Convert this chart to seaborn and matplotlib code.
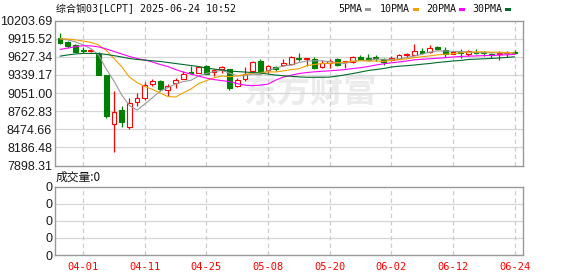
import matplotlib
matplotlib.use("Agg")
import matplotlib.pyplot as plt
from matplotlib.patches import Rectangle
import numpy as np
import pandas as pd
import seaborn as sns

# ---------------- data ----------------
title = "综合铜03[LCPT] 2025-06-24 10:52"
volume_label = "成交量:0"
watermark = "东方财富"

# LME trading days (UK holidays skipped)
trade_days = pd.bdate_range("2025-03-27", "2025-06-24", freq="C",
                            holidays=["2025-04-18", "2025-04-21", "2025-05-05", "2025-05-26"])
dates = [d.strftime("%m-%d") for d in trade_days]

x_tick_labels = ["04-01", "04-11", "04-25", "05-08", "05-20", "06-02", "06-12", "06-24"]
price_tick_labels = ["10203.69", "9915.52", "9627.34", "9339.17", "9051.00",
                     "8762.83", "8474.66", "8186.48", "7898.31"]
volume_tick_labels = ["0", "0", "0", "0", "0"]

opens = [9931, 9861, 9813, 9733, 9717, 9675, 9344, 8555, 8784, 8516,
         8907, 8971, 9195, 9237, 9096, 9216, 9280, 9392, 9371, 9488,
         9387, 9432, 9435, 9168, 9275, 9408, 9557, 9424, 9461, 9504,
         9520, 9600, 9595, 9595, 9467, 9531, 9584, 9541, 9541, 9621,
         9600, 9621, 9584, 9568, 9595, 9653, 9653, 9717, 9701, 9781,
         9728, 9675, 9707, 9664, 9701, 9696, 9669, 9675, 9680, 9701]
highs = [10012, 9877, 9823, 9781, 9755, 9696, 9344, 9088, 8852, 8971,
         9051, 9221, 9275, 9253, 9200, 9291, 9408, 9480, 9472, 9504,
         9440, 9488, 9440, 9291, 9467, 9557, 9584, 9504, 9488, 9584,
         9637, 9680, 9611, 9616, 9568, 9584, 9611, 9557, 9637, 9648,
         9675, 9648, 9611, 9637, 9664, 9691, 9824, 9771, 9808, 9797,
         9781, 9712, 9744, 9728, 9744, 9717, 9691, 9717, 9717, 9733]
lows = [9836, 9771, 9695, 9691, 9696, 9340, 8651, 8106, 8516, 8475,
        8852, 8932, 9157, 9088, 9008, 9131, 9272, 9355, 9368, 9360,
        9317, 9376, 9093, 9147, 9237, 9371, 9392, 9371, 9397, 9477,
        9504, 9557, 9488, 9440, 9451, 9451, 9488, 9451, 9531, 9584,
        9557, 9557, 9504, 9557, 9584, 9611, 9648, 9675, 9691, 9733,
        9627, 9670, 9611, 9637, 9664, 9637, 9611, 9568, 9627, 9664]
closes = [9851, 9797, 9701, 9712, 9733, 9344, 8688, 8747, 8596, 8891,
          8971, 9173, 9248, 9120, 9168, 9264, 9360, 9371, 9464, 9360,
          9413, 9467, 9131, 9253, 9360, 9547, 9408, 9477, 9435, 9531,
          9627, 9594, 9611, 9451, 9531, 9557, 9504, 9557, 9621, 9595,
          9573, 9600, 9541, 9611, 9648, 9675, 9717, 9691, 9771, 9744,
          9675, 9707, 9691, 9717, 9691, 9685, 9659, 9691, 9701, 9691]

ma5 = [9912, 9896, 9864, 9816, 9756, 9655, 9433, 9242, 9022, 8853,
       8779, 8876, 8976, 9081, 9136, 9195, 9232, 9253, 9322, 9361,
       9390, 9412, 9367, 9325, 9325, 9352, 9340, 9409, 9445, 9480,
       9496, 9533, 9560, 9563, 9563, 9549, 9531, 9520, 9554, 9567,
       9570, 9589, 9586, 9584, 9595, 9615, 9638, 9668, 9700, 9720,
       9720, 9712, 9712, 9701, 9691, 9693, 9689, 9689, 9685, 9685]
ma10 = [9915, 9909, 9896, 9877, 9856, 9816, 9728, 9600, 9472, 9305,
        9217, 9154, 9109, 9051, 8995, 8987, 9054, 9115, 9201, 9248,
        9293, 9322, 9310, 9324, 9343, 9371, 9376, 9388, 9385, 9402,
        9424, 9436, 9484, 9504, 9521, 9522, 9532, 9540, 9558, 9565,
        9559, 9560, 9553, 9569, 9581, 9593, 9614, 9627, 9642, 9657,
        9667, 9675, 9690, 9701, 9705, 9706, 9700, 9700, 9693, 9688]
ma20 = [9744, 9765, 9787, 9803, 9800, 9784, 9752, 9712, 9672, 9632,
        9600, 9576, 9544, 9504, 9472, 9424, 9384, 9352, 9320, 9288,
        9264, 9248, 9232, 9200, 9176, 9168, 9176, 9192, 9256, 9304,
        9333, 9360, 9376, 9387, 9397, 9403, 9413, 9424, 9440, 9453,
        9472, 9496, 9515, 9531, 9544, 9560, 9579, 9587, 9595, 9603,
        9613, 9624, 9632, 9637, 9640, 9645, 9648, 9653, 9659, 9664]
ma30 = [9637, 9656, 9672, 9680, 9680, 9680, 9664, 9645, 9624, 9600,
        9584, 9573, 9563, 9552, 9536, 9520, 9504, 9488, 9472, 9448,
        9432, 9416, 9400, 9392, 9384, 9376, 9368, 9352, 9336, 9325,
        9317, 9307, 9301, 9301, 9301, 9304, 9320, 9339, 9360, 9384,
        9408, 9424, 9440, 9464, 9477, 9485, 9496, 9509, 9520, 9536,
        9547, 9560, 9568, 9584, 9589, 9595, 9600, 9608, 9616, 9627]

ma_names = ["5PMA", "10PMA", "20PMA", "30PMA"]

# ---------------- style ----------------
sns.set_style("white")
plt.rcParams["font.family"] = ["Liberation Sans", "DejaVu Sans"]

RED = "#ff0000"
GREEN = "#008000"
MA_COLORS = ["#999999", "#f0a000", "#ff00ff", "#006b2a"]
FRAME = "#999999"
GRID = "#d6d6d6"
MONO_CJK = ["DejaVu Sans Mono", "Noto Sans CJK SC"]

W, H = 578, 276
fig = plt.figure(figsize=(W / 100, H / 100), dpi=100)
fig.patch.set_facecolor("white")

def fx(px):
    return px / W

def fy(py):
    return 1 - py / H

ax = fig.add_axes([fx(55), fy(165.5), fx(523) - fx(55), fy(20.5) - fy(165.5)])
axv = fig.add_axes([fx(55), fy(255), fx(523) - fx(55), fy(186.5) - fy(255)])

n = len(closes)
x = np.arange(n)
o = np.array(opens, float)
c = np.array(closes, float)
h = np.array(highs, float)
l = np.array(lows, float)
up = c >= o
cols = np.where(up, RED, GREEN)

price_vals = [float(v) for v in price_tick_labels]
tick_pos = [dates.index(t) for t in x_tick_labels]

# watermark
ax.text(0.545, 0.50, watermark, transform=ax.transAxes, ha="center", va="center",
        fontsize=24, fontweight="bold", color="#ebebeb", family=["Noto Sans CJK SC"],
        zorder=0.5, style="italic")

# grid
for t in price_vals[1:-1]:
    ax.axhline(t, color=GRID, lw=0.9, zorder=1)
for p in tick_pos:
    ax.axvline(p, color="#cccccc", lw=0.9, ls=(0, (3.5, 2.5)), zorder=1)

# candles
ax.vlines(x, l, h, colors=cols, linewidth=0.9, zorder=2)
body_bottom = np.minimum(o, c)
body_h = np.maximum(np.abs(c - o), 12)
ax.bar(x, body_h, bottom=body_bottom, width=0.62,
       color=np.where(up, "white", GREEN), edgecolor=cols, linewidth=0.8, zorder=3)

# moving averages
ma_df = pd.DataFrame({"idx": x, "5PMA": ma5, "10PMA": ma10, "20PMA": ma20, "30PMA": ma30})
for name, col in zip(ma_names, MA_COLORS):
    sns.lineplot(data=ma_df, x="idx", y=name, ax=ax, color=col, linewidth=0.8, zorder=4)

ax.set_xlim(-0.65, 60.1)
ax.set_ylim(price_vals[-1], price_vals[0])
ax.set_yticks(price_vals)
ax.set_yticklabels(price_tick_labels)
ax.set_xticks([])
ax.set_xlabel("")
ax.set_ylabel("")
ax.tick_params(axis="y", length=0, pad=2, labelsize=9, labelcolor="#1a1a1a")
for s in ax.spines.values():
    s.set_color(FRAME)
    s.set_linewidth(1)

# volume panel
axv.set_xlim(-0.65, 60.1)
axv.set_ylim(0, 4)
for t in [1, 2, 3]:
    axv.axhline(t, color=GRID, lw=0.9, zorder=1)
for p in tick_pos:
    axv.axvline(p, color="#cccccc", lw=0.9, ls=(0, (3.5, 2.5)), zorder=1)
axv.set_yticks([4, 3, 2, 1, 0])
axv.set_yticklabels(volume_tick_labels)
axv.set_xticks(tick_pos)
axv.set_xticklabels(x_tick_labels)
axv.tick_params(axis="y", length=0, pad=2, labelsize=9, labelcolor="#1a1a1a")
axv.tick_params(axis="x", length=0, pad=5, labelsize=7.5, labelcolor=RED)
for lbl in axv.get_xticklabels():
    lbl.set_family("DejaVu Sans Mono")
for s in axv.spines.values():
    s.set_color(FRAME)
    s.set_linewidth(1)

# header texts
fig.text(fx(56), fy(8.5), title, family=MONO_CJK, fontsize=7.2, ha="left", va="center", color="#111111")
leg_x = [338, 380, 426, 472]
for name, col, lx in zip(ma_names, MA_COLORS, leg_x):
    t = fig.text(fx(lx), fy(8.5), name, family=["DejaVu Sans Mono"], fontsize=7.2,
                 ha="left", va="center", color="#111111")
    tw = len(name) * 5.85
    fig.add_artist(Rectangle((fx(lx + tw + 4), fy(10.5)), fx(6), fy(8) - fy(10.5),
                             transform=fig.transFigure, facecolor=col, edgecolor="none"))

fig.text(fx(56), fy(177), volume_label, family=["Noto Sans CJK SC", "DejaVu Sans"],
         fontsize=8.5, ha="left", va="center", color="#111111")

fig.savefig("out.png", dpi=100, facecolor="white")
